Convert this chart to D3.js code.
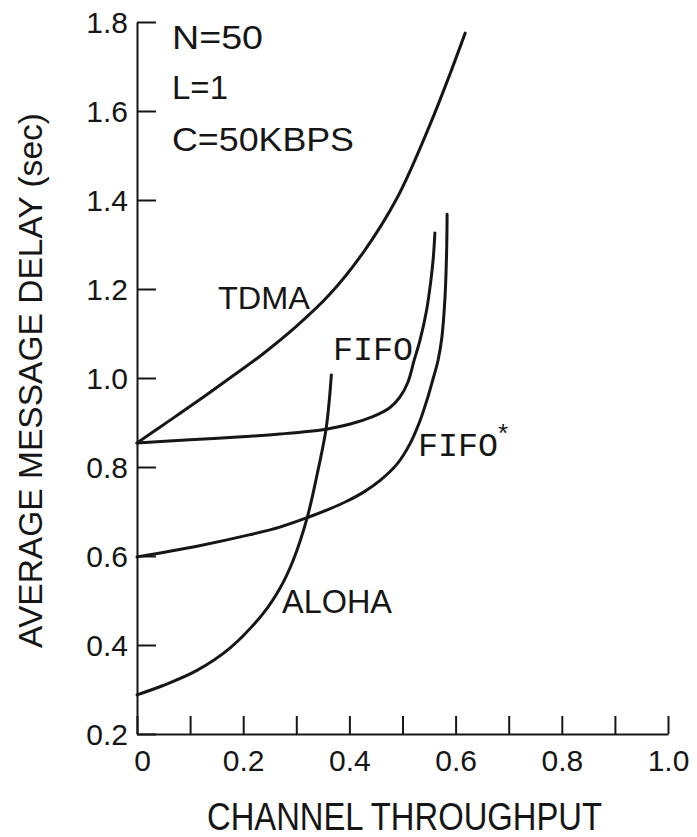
<!DOCTYPE html>
<html>
<head>
<meta charset="utf-8">
<script src="https://cdn.jsdelivr.net/npm/d3@7"></script>
<style>
  html, body { margin: 0; padding: 0; background: #fff; }
  svg { display: block; }
  text { fill: #161616; font-family: "Liberation Sans", Arial, sans-serif; }
</style>
</head>
<body>
<svg id="chart" width="697" height="837"></svg>
<script>
// Channel throughput (x) vs. average message delay in seconds (y)
const tdmaX  = [0, 0.050, 0.113, 0.175, 0.237, 0.301, 0.363, 0.426, 0.490, 0.552, 0.590, 0.618];
const tdmaY  = [0.854, 0.895, 0.947, 1.000, 1.054, 1.117, 1.188, 1.282, 1.405, 1.570, 1.685, 1.775];

const fifoX  = [0, 0.10, 0.213, 0.269, 0.356, 0.400, 0.444, 0.476, 0.495, 0.510, 0.522, 0.533, 0.545, 0.553, 0.558, 0.561];
const fifoY  = [0.854, 0.861, 0.869, 0.874, 0.885, 0.896, 0.913, 0.933, 0.957, 0.990, 1.040, 1.085, 1.150, 1.215, 1.270, 1.326];

const fifoStarX = [0, 0.113, 0.213, 0.269, 0.320, 0.363, 0.395, 0.426, 0.458, 0.490, 0.514, 0.533, 0.548, 0.558, 0.567, 0.574, 0.580, 0.583, 0.584];
const fifoStarY = [0.598, 0.622, 0.648, 0.665, 0.686, 0.706, 0.723, 0.743, 0.770, 0.807, 0.852, 0.904, 0.958, 1.000, 1.040, 1.090, 1.180, 1.280, 1.368];

const alohaX = [0, 0.049, 0.113, 0.175, 0.237, 0.269, 0.294, 0.320, 0.339, 0.356, 0.3625, 0.366];
const alohaY = [0.288, 0.309, 0.343, 0.393, 0.470, 0.527, 0.590, 0.684, 0.782, 0.885, 0.955, 1.007];

const xTicks = [0, 0.1, 0.2, 0.3, 0.4, 0.5, 0.6, 0.7, 0.8, 0.9, 1.0];
const xTickLabels = ["0", "", "0.2", "", "0.4", "", "0.6", "", "0.8", "", "1.0"];
const yTicks = [0.2, 0.4, 0.6, 0.8, 1.0, 1.2, 1.4, 1.6, 1.8];
const yTickLabels = ["0.2", "0.4", "0.6", "0.8", "1.0", "1.2", "1.4", "1.6", "1.8"];

const paramLines = ["N=50", "L=1", "C=50KBPS"];

const svg = d3.select("#chart");
const ink = "#161616";

const x = d3.scaleLinear().domain([0, 1]).range([137, 668]);
const y = d3.scaleLinear().domain([0.2, 1.8]).range([734, 22]);

// Axes: ticks point into the plot area
const xAxis = d3.axisBottom(x)
  .tickValues(xTicks)
  .tickFormat((d, i) => xTickLabels[i])
  .tickSizeInner(-18)
  .tickSizeOuter(0)
  .tickPadding(16);

const yAxis = d3.axisLeft(y)
  .tickValues(yTicks)
  .tickFormat((d, i) => yTickLabels[i])
  .tickSizeInner(-19)
  .tickSizeOuter(0)
  .tickPadding(9);

const gx = svg.append("g").attr("transform", `translate(0,${y(0.2)})`).call(xAxis);
const gy = svg.append("g").attr("transform", `translate(${x(0)},0)`).call(yAxis);

[gx, gy].forEach(g => {
  g.attr("font-family", null).attr("font-size", null);
  g.select(".domain").attr("stroke", ink).attr("stroke-width", 2);
  g.selectAll(".tick line").attr("stroke", ink).attr("stroke-width", 2);
  g.selectAll(".tick text")
    .attr("fill", ink)
    .style("font-size", "30px")
    .style("font-family", "'Liberation Sans', Arial, sans-serif");
});
gy.selectAll(".tick text").attr("dy", "0.36em");
// the origin label sits just right of the corner
gx.selectAll(".tick text").filter(d => d === 0).attr("dx", 5);

// Axis titles
svg.append("text")
  .attr("x", 207).attr("y", 830)
  .attr("textLength", 395).attr("lengthAdjust", "spacingAndGlyphs")
  .style("font-size", "38px")
  .text("CHANNEL THROUGHPUT");

svg.append("text")
  .attr("transform", "translate(42,648) rotate(-90)")
  .attr("textLength", 535).attr("lengthAdjust", "spacingAndGlyphs")
  .style("font-size", "34px")
  .text("AVERAGE MESSAGE DELAY (sec)");

// Curves
const line = d3.line()
  .x(d => x(d[0]))
  .y(d => y(d[1]))
  .curve(d3.curveCatmullRom.alpha(0.5));

const series = [
  { name: "TDMA", xs: tdmaX, ys: tdmaY },
  { name: "FIFO", xs: fifoX, ys: fifoY },
  { name: "FIFO*", xs: fifoStarX, ys: fifoStarY },
  { name: "ALOHA", xs: alohaX, ys: alohaY }
];

svg.append("g")
  .selectAll("path")
  .data(series)
  .join("path")
  .attr("d", s => line(s.xs.map((v, i) => [v, s.ys[i]])))
  .attr("fill", "none")
  .attr("stroke", ink)
  .attr("stroke-width", 3)
  .attr("stroke-linecap", "round")
  .attr("stroke-linejoin", "round");

// Parameter block
const paramWidths = [91, 56, 182];
const paramBase = [49, 99, 151];
svg.append("g")
  .selectAll("text")
  .data(paramLines)
  .join("text")
  .attr("x", 172)
  .attr("y", (d, i) => paramBase[i])
  .attr("textLength", (d, i) => paramWidths[i])
  .attr("lengthAdjust", "spacingAndGlyphs")
  .style("font-size", "34px")
  .text(d => d);

// Curve labels
svg.append("text")
  .attr("x", 218).attr("y", 309)
  .attr("textLength", 92).attr("lengthAdjust", "spacingAndGlyphs")
  .style("font-size", "32px")
  .text("TDMA");

svg.append("text")
  .attr("x", 333).attr("y", 360)
  .attr("textLength", 80).attr("lengthAdjust", "spacingAndGlyphs")
  .style("font-family", "'Liberation Mono', 'DejaVu Sans Mono', monospace")
  .style("font-size", "34px")
  .text("FIFO");

const fs = svg.append("text")
  .attr("x", 418).attr("y", 456)
  .style("font-family", "'Liberation Mono', 'DejaVu Sans Mono', monospace")
  .style("font-size", "34px");
fs.append("tspan").attr("textLength", 80).attr("lengthAdjust", "spacingAndGlyphs").text("FIFO");
fs.append("tspan").attr("dy", -14).style("font-size", "26px").style("font-family", "'Liberation Sans', Arial, sans-serif").text("*");

svg.append("text")
  .attr("x", 282).attr("y", 613)
  .attr("textLength", 110).attr("lengthAdjust", "spacingAndGlyphs")
  .style("font-size", "34px")
  .text("ALOHA");
</script>
</body>
</html>
